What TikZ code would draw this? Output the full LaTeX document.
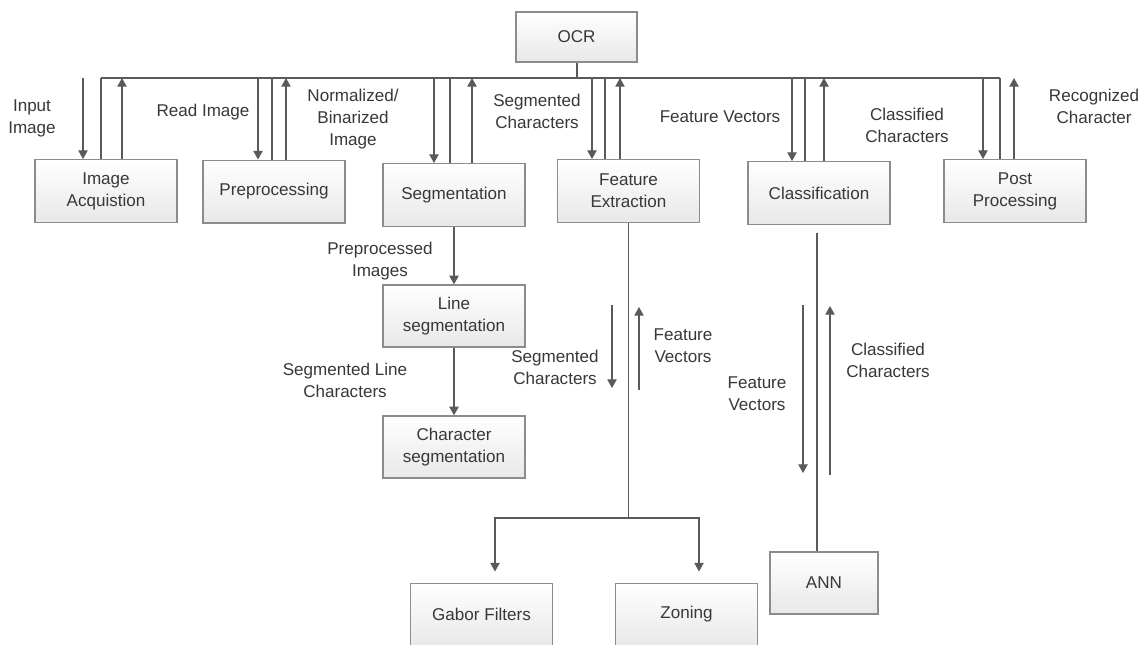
\documentclass[tikz,border=0pt]{standalone}
\usepackage{fontspec}
\setmainfont{Liberation Sans}
\usetikzlibrary{arrows.meta,calc}
\definecolor{ln}{HTML}{5A5A5A}
\definecolor{tx}{HTML}{383838}
\definecolor{bd}{HTML}{8C8C8C}
\newcommand\labfont{\fontsize{12.8}{16.5}\selectfont}
\tikzset{
 box/.style={draw=bd, line width=1pt, top color=white, bottom color=black!9, minimum width=106.5pt, minimum height=47pt, align=center, text=tx, font=\labfont, inner sep=1pt},
 lbl/.style={align=center, text=tx, font=\labfont, inner sep=0pt},
 arr/.style={draw=ln, line width=0.95pt, -{Triangle[width=7pt,length=6.5pt]}},
 busline/.style={draw=ln, line width=1.5pt},
}
\newcommand\mytrio[4]{%
 \path ($(#1.north)+(#2,0)$) coordinate (#1d) ($(#1.north)+(#3,0)$) coordinate (#1b) ($(#1.north)+(#4,0)$) coordinate (#1u);
 \draw[arr] (#1d |- busL) -- (#1d);
 \draw[busline] (#1b |- busL) -- (#1b);
 \draw[arr] (#1u) -- (#1u |- busL);
}
\begin{document}
\begin{tikzpicture}[x=0.75pt,y=-0.75pt]
\useasboundingbox (0,0) rectangle (1146,644);
\clip (0,0) rectangle (1146,644);
\fill[white] (0,0) rectangle (1146,644);

% boxes
\node[box, minimum width=90.75pt, minimum height=37.5pt] (ocr) at (576.5,37) {OCR};
\node[box] (ia)  at (106,191)   {Image\\Acquistion};
\node[box] (pre) at (274,191.5) {Preprocessing};
\node[box] (seg) at (454,195)   {Segmentation};
\node[box] (fe)  at (628.5,191) {Feature\\Extraction};
\node[box] (cls) at (819,193)   {Classification};
\node[box] (pp)  at (1015,191)  {Post\\Processing};
\node[box, minimum height=46.5pt] (ls) at (454,316) {Line\\segmentation};
\node[box, minimum height=46.5pt] (cs) at (454,447) {Character\\segmentation};
\node[box] (gab) at (481.5,614.5) {Gabor Filters};
\node[box] (zon) at (686.5,614.5) {Zoning};
\node[box, minimum width=81pt, minimum height=46.5pt] (ann) at (824,583) {ANN};

% bus
\coordinate (busL) at (0,78);
\mytrio{ia}{-23}{-5}{16}
\mytrio{pre}{-16}{-2}{12}
\mytrio{seg}{-20}{-4}{18}
\mytrio{fe}{-36.5}{-23.5}{-8.5}
\mytrio{cls}{-27}{-14}{5}
\mytrio{pp}{-32}{-15}{-1}
\draw[busline] (iab |- busL) -- (ppb |- busL);
\draw[busline] (ocr.south) -- (ocr.south |- busL);

% top labels
\node[lbl] (inL)   at (32,118)  {Input\\Image};
\node[lbl] (readL) at (203,112) {Read Image};
\node[lbl] (normL) at (353,119) {Normalized/\\Binarized\\Image};
\node[lbl] (segcL) at (537,111) {Segmented\\Characters};
\node[lbl] (fvL)   at (720,117) {Feature Vectors};
\node[lbl] (clcL)  at (907,125) {Classified\\Characters};
\node[lbl] (recL)  at (1094,106) {Recognized\\Character};

% segmentation chain
\draw[arr] (seg) -- (ls);
\draw[arr] (ls) -- (cs);
\node[lbl] (ppiL) at (380,261) {Preprocessed\\Images};
\node[lbl] (slcL) at (345,380) {Segmented Line\\Characters};

% feature extraction
\coordinate (fkY) at (0,518);
\coordinate (fork) at (fe.south |- fkY);
\draw[draw=ln, line width=1.3pt] (fe.south) -- (fork);
\coordinate (gabT) at ($(gab.north)+(13.5,-11)$);
\coordinate (zonT) at ($(zon.north)+(12.5,-11)$);
\draw[arr] (fork) -| (gabT);
\draw[arr] (fork) -| (zonT);
\coordinate (fed1) at (612,305);
\coordinate (fed2) at (612,388);
\coordinate (feu1) at (639,390);
\coordinate (feu2) at (639,307);
\draw[arr] (fed1) -- (fed2);
\draw[arr] (feu1) -- (feu2);
\node[lbl] (segc2L) at (555,367) {Segmented\\Characters};
\node[lbl] (fv2L)   at (683,346) {Feature\\Vectors};

% classification
\coordinate (clsx) at ($(cls.south)+(-2,8)$);
\draw[busline] (clsx) -- (clsx |- ann.north);
\coordinate (cld1) at (803,305);
\coordinate (cld2) at (803,473);
\coordinate (clu1) at (830,475);
\coordinate (clu2) at (830,306);
\draw[arr] (cld1) -- (cld2);
\draw[arr] (clu1) -- (clu2);
\node[lbl] (fv3L)  at (757,394) {Feature\\Vectors};
\node[lbl] (clc2L) at (888,360) {Classified\\Characters};
\end{tikzpicture}
\end{document}
